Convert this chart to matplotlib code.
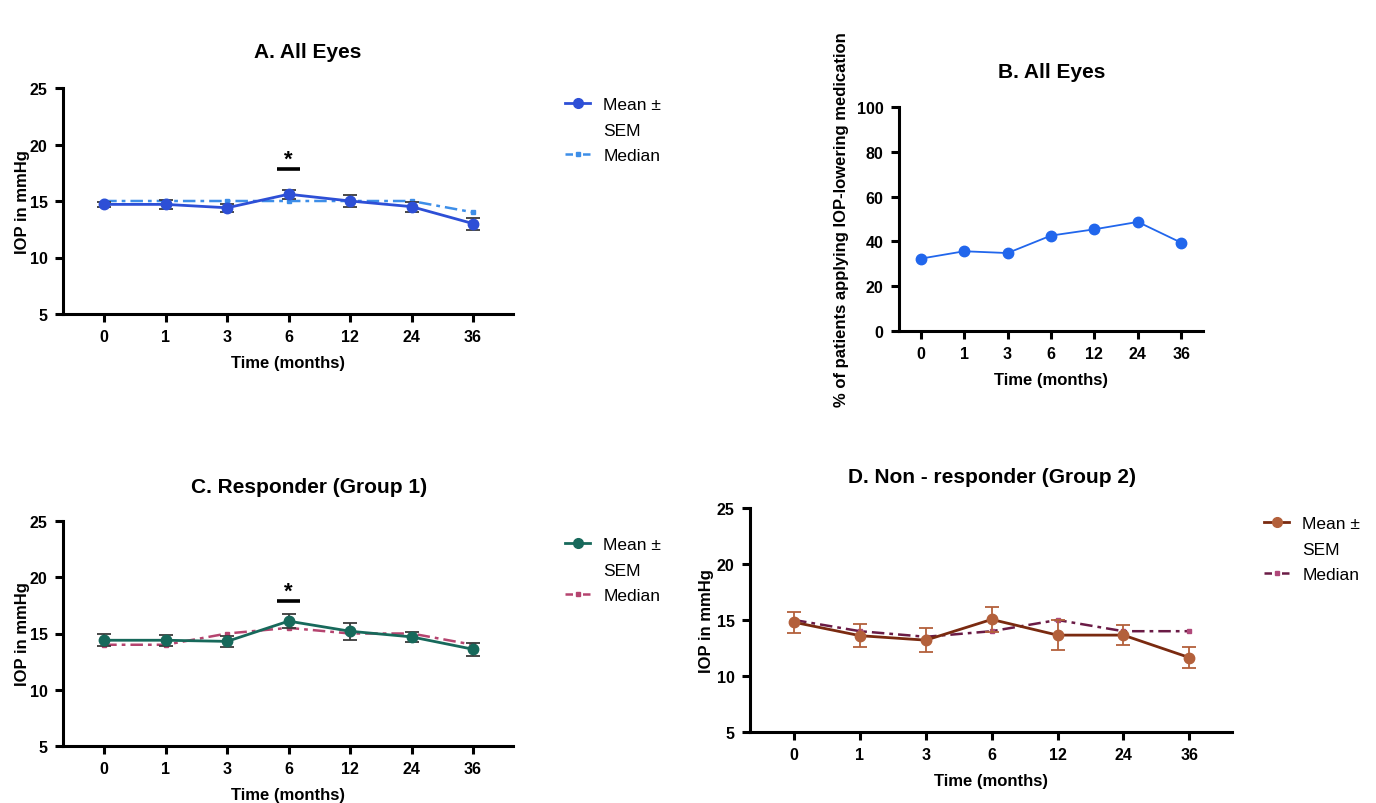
import matplotlib
matplotlib.use('Agg')
import matplotlib.pyplot as plt
from matplotlib.lines import Line2D
import numpy as np

plt.rcParams['font.family'] = ['Liberation Sans', 'DejaVu Sans']

# ---------------- data ----------------
time_labels = ['0', '1', '3', '6', '12', '24', '36']

a_mean = [14.7, 14.7, 14.4, 15.6, 15.0, 14.5, 13.0]
a_sem = [0.25, 0.42, 0.37, 0.40, 0.55, 0.45, 0.53]
a_median = [15, 15, 15, 15, 15, 15, 14]

b_pct = [32.3, 35.6, 34.8, 42.6, 45.4, 48.7, 39.4]

c_mean = [14.4, 14.4, 14.3, 16.1, 15.2, 14.7, 13.6]
c_sem = [0.52, 0.50, 0.48, 0.60, 0.75, 0.47, 0.58]
c_median = [14, 14, 15, 15.5, 15, 15, 14]

d_mean = [14.8, 13.6, 13.2, 15.05, 13.65, 13.65, 11.65]
d_sem = [0.94, 1.04, 1.06, 1.08, 1.37, 0.92, 0.98]
d_median = [15, 14, 13.5, 14, 15, 14, 14]

sig_index = 3  # 6 months

W, H = 1376, 804
fig = plt.figure(figsize=(W / 100, H / 100), dpi=100)


def rect(l, r, t, b):
    return [l / W, 1 - b / H, (r - l) / W, (b - t) / H]


SPINE_W = 2.2
TICK_FS = 11.5
LABEL_FS = 12
TITLE_FS = 15
LEG_FS = 12.5


def style_axes(ax):
    for s in ['top', 'right']:
        ax.spines[s].set_visible(False)
    for s in ['left', 'bottom']:
        ax.spines[s].set_linewidth(SPINE_W)
    ax.tick_params(axis='both', width=SPINE_W, length=6, labelsize=TICK_FS, pad=5)
    for lab in ax.get_xticklabels() + ax.get_yticklabels():
        lab.set_fontweight('bold')


def iop_panel(ax, mean, sem, median, mean_line, mean_marker, err_color,
              med_line, med_marker, sig=False, ylabelpad=0):
    x = np.arange(len(time_labels))
    ax.plot(x, median, linestyle=(0, (5, 2, 1.5, 2)), color=med_line, lw=1.8,
            marker='s', markersize=3.5, markerfacecolor=med_marker,
            markeredgecolor=med_marker, zorder=2)
    ax.errorbar(x, mean, yerr=sem, fmt='none', ecolor=err_color, elinewidth=1.3,
                capsize=5, capthick=1.3, zorder=3)
    ax.plot(x, mean, color=mean_line, lw=2.0, marker='o', markersize=7.5,
            markerfacecolor=mean_marker, markeredgecolor=mean_marker, zorder=4)
    ax.set_xlim(-0.67, 6.65)
    ax.set_ylim(5, 25)
    ax.set_yticks([5, 10, 15, 20, 25])
    ax.set_xticks(x)
    ax.set_xticklabels(time_labels)
    ax.set_ylabel('IOP in mmHg', fontsize=LABEL_FS, fontweight='bold',
                  labelpad=ylabelpad)
    ax.set_xlabel('Time (months)', fontsize=LABEL_FS, fontweight='bold', labelpad=8)
    style_axes(ax)
    if sig:
        ax.plot([sig_index - 0.19, sig_index + 0.19], [17.85, 17.85], color='black',
                lw=2.6, solid_capstyle='butt', zorder=5)
        ax.text(sig_index, 17.8, '*', ha='center', va='bottom', fontsize=16,
                fontweight='bold')
    return ax


def add_legend(ax, mean_line, mean_marker, med_line, med_marker, x_px, y_px):
    h_mean = Line2D([], [], color=mean_line, lw=2.0, marker='o', markersize=7,
                    markerfacecolor=mean_marker, markeredgecolor=mean_marker)
    h_blank = Line2D([], [], linestyle='none')
    h_med = Line2D([], [], color=med_line, lw=1.8, linestyle=(0, (3, 1.5, 1, 1.5)),
                   marker='s', markersize=3.5, markerfacecolor=med_marker,
                   markeredgecolor=med_marker)
    leg = ax.legend([h_mean, h_blank, h_med], ['Mean \u00b1', 'SEM', 'Median'],
                    loc='upper left', bbox_to_anchor=(x_px / W, 1 - y_px / H),
                    bbox_transform=fig.transFigure, frameon=False,
                    fontsize=LEG_FS, handlelength=1.45, handletextpad=0.75,
                    labelspacing=0.6, borderpad=0, borderaxespad=0)
    return leg


# ---------------- Panel A ----------------
axA = fig.add_axes(rect(63, 513, 89, 315))
iop_panel(axA, a_mean, a_sem, a_median, '#2D4FD6', '#2D4FD6', '#3a3a3a',
          '#3D8EE8', '#3D8EE8', sig=True)
add_legend(axA, '#2D4FD6', '#2D4FD6', '#3D8EE8', '#3D8EE8', 565, 98)
fig.text(308 / W, 1 - 53 / H, 'A. All Eyes', ha='center', va='center',
         fontsize=TITLE_FS, fontweight='bold')

# ---------------- Panel B ----------------
axB = fig.add_axes(rect(899, 1203, 108, 332))
xb = np.arange(len(time_labels))
axB.plot(xb, b_pct, color='#2166EC', lw=1.3, marker='o', markersize=7.5,
         markerfacecolor='#2166EC', markeredgecolor='#2166EC')
axB.set_xlim(-0.5, 6.5)
axB.set_ylim(0, 100)
axB.set_yticks([0, 20, 40, 60, 80, 100])
axB.set_xticks(xb)
axB.set_xticklabels(time_labels)
axB.set_xlabel('Time (months)', fontsize=LABEL_FS, fontweight='bold', labelpad=8)
axB.set_ylabel('% of patients applying IOP-lowering medication', fontsize=LABEL_FS,
               fontweight='bold', labelpad=6)
style_axes(axB)
fig.text(1052 / W, 1 - 73 / H, 'B. All Eyes', ha='center', va='center',
         fontsize=TITLE_FS, fontweight='bold')

# ---------------- Panel C ----------------
axC = fig.add_axes(rect(63, 513, 522, 747))
iop_panel(axC, c_mean, c_sem, c_median, '#17695B', '#17695B', '#3a3a3a',
          '#B5446F', '#B5446F', sig=True)
add_legend(axC, '#17695B', '#17695B', '#B5446F', '#B5446F', 565, 538)
fig.text(309 / W, 1 - 488 / H, 'C. Responder (Group 1)', ha='center', va='center',
         fontsize=TITLE_FS, fontweight='bold')

# ---------------- Panel D ----------------
axD = fig.add_axes(rect(750, 1232, 509, 733))
iop_panel(axD, d_mean, d_sem, d_median, '#7A2A10', '#B3603B', '#B3603B',
          '#6A1B45', '#B0487A', ylabelpad=2)
add_legend(axD, '#7A2A10', '#B3603B', '#6A1B45', '#B0487A', 1264, 517)
fig.text(992 / W, 1 - 478 / H, 'D. Non - responder (Group 2)', ha='center',
         va='center', fontsize=TITLE_FS, fontweight='bold')

fig.savefig('out.png', dpi=100)
